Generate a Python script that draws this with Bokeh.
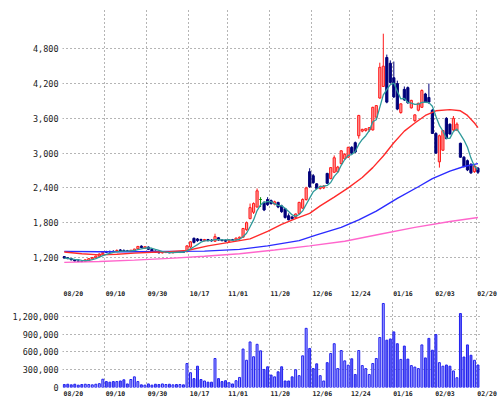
import pandas as pd
from bokeh.plotting import figure
from bokeh.layouts import column
from bokeh.models import (ColumnDataSource, Range1d, FixedTicker, NumeralTickFormatter, Grid)
from bokeh.embed import file_html
from bokeh.resources import INLINE

# ---------------- data ----------------
date_labels = ["08/20", "09/10", "09/30", "10/17", "11/01", "11/20",
               "12/06", "12/24", "01/16", "02/03", "02/20"]
date_bars = [0, 12, 24, 36, 47, 59, 71, 82, 94, 106, 118]

opens = [1215, 1195, 1180, 1160, 1140, 1135, 1130, 1150, 1175, 1195,
         1220, 1265, 1300, 1300, 1305, 1310, 1330, 1320, 1315, 1305,
         1320, 1350, 1395, 1360, 1380, 1340, 1310, 1290, 1280, 1285,
         1290, 1280, 1295, 1285, 1300, 1300, 1380, 1530, 1520, 1510,
         1490, 1510, 1500, 1480, 1540, 1500, 1495, 1480, 1505, 1500,
         1530, 1550, 1680, 1870, 1980, 2070, 2200, 2150, 2200, 2180,
         2120, 2150, 2090, 2040, 1920, 1900, 1890, 1960, 2050, 2200,
         2680, 2610, 2470, 2390, 2400, 2650, 2560, 2670, 2680, 2820,
         2900, 2930, 3100, 3180, 3300, 3380, 3390, 3400, 3400, 3620,
         3950, 4150, 4650, 4550, 4300, 4200, 3700, 4100, 4130, 3780,
         3560, 3740, 3790, 4020, 3960, 3740, 3340, 2850, 3050, 3600,
         3500, 3400, 3400, 3170, 2930, 2870, 2800, 2680, 2740]
highs = [1225, 1205, 1190, 1165, 1150, 1150, 1165, 1185, 1205, 1230,
         1270, 1300, 1315, 1320, 1325, 1340, 1345, 1340, 1330, 1330,
         1350, 1400, 1410, 1395, 1390, 1345, 1320, 1300, 1295, 1300,
         1300, 1300, 1305, 1305, 1310, 1410, 1480, 1545, 1535, 1525,
         1520, 1520, 1515, 1610, 1550, 1515, 1510, 1510, 1520, 1540,
         1560, 1710, 1820, 2130, 2150, 2390, 2240, 2170, 2240, 2200,
         2180, 2160, 2110, 2050, 1960, 1910, 1960, 2160, 2220, 2420,
         2740, 2640, 2480, 2440, 2450, 2660, 2760, 2960, 2780, 3050,
         3000, 3110, 3120, 3200, 3660, 3420, 3430, 3450, 3800, 3830,
         4560, 5060, 4700, 4600, 4580, 4250, 3860, 4150, 4150, 3920,
         3670, 3870, 4100, 4040, 4200, 3760, 3360, 3320, 3400, 3620,
         3510, 3640, 3530, 3180, 2950, 2890, 2830, 2800, 2760]
lows = [1180, 1170, 1150, 1130, 1120, 1120, 1125, 1145, 1170, 1190,
        1215, 1250, 1280, 1285, 1290, 1300, 1305, 1300, 1295, 1295,
        1310, 1340, 1360, 1350, 1330, 1300, 1280, 1270, 1270, 1275,
        1275, 1275, 1280, 1280, 1285, 1290, 1360, 1440, 1470, 1480,
        1480, 1480, 1475, 1470, 1490, 1480, 1470, 1470, 1490, 1495,
        1520, 1540, 1660, 1860, 1950, 2060, 2070, 2000, 2090, 2110,
        2100, 2050, 1970, 1870, 1840, 1850, 1880, 1950, 2040, 2180,
        2400, 2470, 2380, 2370, 2380, 2470, 2550, 2660, 2660, 2800,
        2880, 2920, 2980, 3000, 3250, 3360, 3370, 3370, 3390, 3600,
        3940, 4140, 3860, 4200, 3950, 3740, 3680, 3900, 3850, 3770,
        3540, 3720, 3780, 3870, 3850, 3330, 2990, 2750, 3040, 3240,
        3320, 3380, 3380, 2920, 2750, 2690, 2640, 2660, 2640]
closes = [1190, 1180, 1160, 1140, 1135, 1130, 1160, 1180, 1200, 1225,
          1260, 1290, 1290, 1295, 1300, 1320, 1315, 1310, 1305, 1325,
          1345, 1390, 1370, 1385, 1340, 1310, 1290, 1280, 1285, 1290,
          1280, 1295, 1285, 1300, 1290, 1400, 1470, 1460, 1490, 1495,
          1510, 1490, 1485, 1560, 1500, 1490, 1480, 1505, 1500, 1535,
          1550, 1700, 1800, 2060, 2130, 2350, 2200, 2020, 2110, 2130,
          2160, 2070, 1990, 1890, 1850, 1870, 1950, 2150, 2200, 2400,
          2420, 2490, 2390, 2420, 2430, 2480, 2750, 2920, 2760, 3040,
          2980, 3100, 3000, 3020, 3650, 3410, 3420, 3440, 3790, 3820,
          4480, 4500, 3880, 4220, 3970, 3760, 3850, 3920, 3870, 3910,
          3660, 3860, 4080, 3880, 3880, 3340, 3000, 3300, 3390, 3250,
          3330, 3600, 3500, 2930, 2770, 2710, 2660, 2780, 2670]
volumes = [50, 55, 45, 55, 40, 50, 55, 50, 45, 55, 65,
           140, 100, 90, 100, 100, 110, 130, 60, 135, 180, 100,
           45, 40, 60, 40, 55, 50, 60, 50, 55, 45, 50, 50, 45,
           405, 250, 150, 360, 135, 110, 90, 90, 490, 150, 100, 115, 80, 60, 115, 170,
           650, 460, 770, 520, 730, 620, 305,
           350, 210, 180, 265, 350, 110, 110, 180, 300, 200,
           535, 1000, 660, 320, 400, 200, 110, 420, 575, 740,
           320, 625, 450, 377, 485, 220, 625, 370, 320, 220,
           405, 490, 845, 1420, 800, 820, 940, 740, 475, 700,
           480, 370, 345, 320, 720, 500, 830, 630, 895, 420,
           360, 380, 360, 280, 165, 1250, 515, 720, 545, 460, 380]
volumes = [v * 1000 for v in volumes]

# moving averages (bar index, price)
ma25_bar = [0, 5, 10, 15, 20, 25, 30, 35, 41, 47, 50, 53, 58, 62, 66, 70, 73, 77,
            81, 85, 88, 91, 94, 97, 100, 103, 106, 110, 113, 115, 117, 118]
ma25_val = [1295, 1265, 1245, 1255, 1275, 1290, 1300, 1320, 1400, 1460, 1490, 1520,
            1650, 1770, 1870, 1960, 2090, 2240, 2400, 2580, 2750, 2950, 3180, 3380,
            3520, 3650, 3730, 3750, 3730, 3650, 3520, 3440]
ma75_bar = [0, 10, 20, 30, 40, 50, 58, 67, 72, 79, 84, 89, 95, 101, 105, 110, 114, 118]
ma75_val = [1305, 1300, 1300, 1305, 1310, 1340, 1400, 1490, 1590, 1720, 1850, 2000,
            2220, 2420, 2560, 2690, 2770, 2820]
ma200_bar = [0, 10, 20, 30, 40, 50, 60, 70, 80, 90, 100, 110, 118]
ma200_val = [1115, 1130, 1155, 1185, 1220, 1265, 1330, 1400, 1480, 1600, 1720, 1820, 1890]

price_ticks = [1200, 1800, 2400, 3000, 3600, 4200, 4800]
volume_ticks = [0, 300000, 600000, 900000, 1200000]

# ---------------- derived tables ----------------
n = len(closes)
idx = list(range(n))
ma5 = pd.Series(closes).rolling(5, min_periods=1).mean().tolist()

line_col, body_col, vol_col = [], [], []
for o, c in zip(opens, closes):
    if c > o:
        line_col.append("#ff1a1a"); body_col.append("#ff9c9c"); vol_col.append("#a8a8ff")
    elif c < o:
        line_col.append("#00007a"); body_col.append("#00007a"); vol_col.append("#6464f4")
    else:
        line_col.append("#008a00"); body_col.append("#008a00"); vol_col.append("#a8a8ff")

src = ColumnDataSource(dict(
    x=idx, open=opens, high=highs, low=lows, close=closes,
    top=[max(o, c) for o, c in zip(opens, closes)],
    bottom=[min(o, c) for o, c in zip(opens, closes)],
    lc=line_col, bc=body_col, vol=volumes, vc=vol_col, ma5=ma5))

grid_pos = [b - 0.5 for b in date_bars]
label_pos = [g + 3.1 for g in grid_pos]          # labels start just right of each grid line
label_map = {lp: t for lp, t in zip(label_pos, date_labels)}

GRID_COL = "#6a6a6a"
MONO = "DejaVu Sans Mono"
X_END = -0.5 + 438 / 3.506
DATA_END = 119


def style_common(p):
    p.outline_line_color = None
    p.background_fill_color = "white"
    p.border_fill_color = "white"
    ax = p.yaxis[0]
    ax.axis_line_color = None
    ax.major_tick_line_color = None
    ax.minor_tick_line_color = None
    ax.major_tick_out = 0
    ax.major_tick_in = 0
    ax.major_label_standoff = 4
    ax.major_label_text_font = MONO
    ax.major_label_text_font_size = "8.5px"
    ax.major_label_text_color = "#222222"
    ax.formatter = NumeralTickFormatter(format="0,0")
    p.ygrid.grid_line_color = GRID_COL
    p.ygrid.grid_line_dash = "1 3"
    p.ygrid.grid_line_width = 1
    p.ygrid.cross_bounds = (-0.5, DATA_END)
    xa = p.xaxis[0]
    xa.ticker = FixedTicker(ticks=label_pos)
    xa.major_label_overrides = label_map
    xa.axis_line_color = None
    xa.major_tick_line_color = None
    xa.minor_tick_line_color = None
    xa.major_tick_out = 0
    xa.major_tick_in = 0
    xa.major_label_standoff = 2
    xa.major_label_text_font = MONO
    xa.major_label_text_font_size = "6.5px"
    xa.major_label_text_font_style = "bold"
    xa.major_label_text_color = "#222222"
    p.xgrid.visible = False
    p.add_layout(Grid(dimension=0, ticker=FixedTicker(ticks=grid_pos),
                      grid_line_color=GRID_COL, grid_line_dash="1 3", grid_line_width=1))


# ---------------- price panel ----------------
p1 = figure(frame_width=438, frame_height=279, min_border_left=62, min_border_right=0,
            min_border_top=8, min_border_bottom=10,
            x_range=Range1d(-0.5, X_END), y_range=Range1d(682, 5495),
            output_backend="svg", toolbar_location=None)
p1.yaxis.ticker = FixedTicker(ticks=price_ticks)
style_common(p1)

p1.segment(x0="x", y0="low", x1="x", y1="high", line_color="lc", line_width=1, source=src)
p1.vbar(x="x", width=0.62, top="top", bottom="bottom", fill_color="bc",
        line_color="lc", line_width=1, source=src)

p1.line(ma200_bar, ma200_val, line_color="#ff66cc", line_width=1.4)
p1.line(ma75_bar, ma75_val, line_color="#2b2bff", line_width=1.4)
p1.line(ma25_bar, ma25_val, line_color="#ff2b2b", line_width=1.4)
p1.line("x", "ma5", line_color="#2f9a9a", line_width=1.3, source=src)

# ---------------- volume panel ----------------
p2 = figure(frame_width=438, frame_height=87, min_border_left=62, min_border_right=0,
            min_border_top=0, min_border_bottom=11,
            x_range=p1.x_range, y_range=Range1d(0, 1470300),
            output_backend="svg", toolbar_location=None)
p2.yaxis.ticker = FixedTicker(ticks=volume_ticks)
style_common(p2)
p2.ygrid.ticker = FixedTicker(ticks=volume_ticks[1:])

p2.vbar(x="x", width=0.55, top="vol", bottom=0, fill_color="vc",
        line_color="#2020f0", line_width=1, source=src)

layout = column(p1, p2, spacing=0)
open("out.html", "w").write(file_html(layout, INLINE))
